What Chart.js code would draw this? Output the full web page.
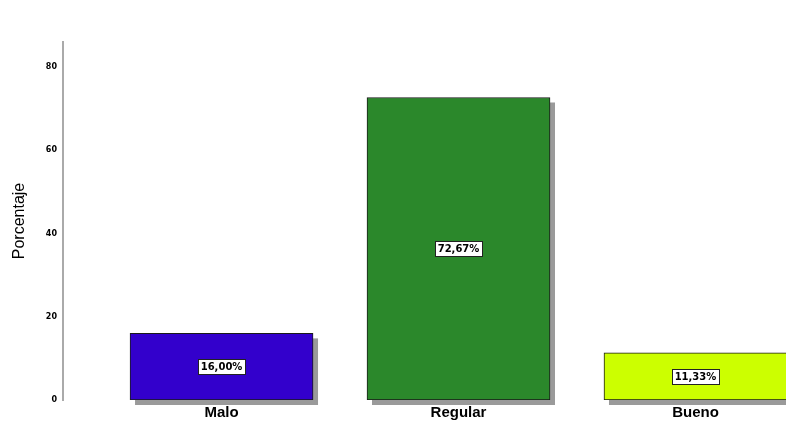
<!DOCTYPE html>
<html>
<head>
<meta charset="utf-8">
<script src="https://cdn.jsdelivr.net/npm/chart.js@4/dist/chart.umd.min.js"></script>
<style>
  html, body { margin: 0; padding: 0; background: #fff; overflow: hidden; }
  #wrap { width: 786px; height: 421px; position: relative; }
</style>
</head>
<body>
<div id="wrap"><canvas id="barChart"></canvas></div>
<script>
// Categories and percentages
const categories = ["Malo", "Regular", "Bueno"];
const percentages = [16.0, 72.67, 11.33];
const barColors = ["#3300cc", "#2b882b", "#ccff00"];
const yTicks = [0, 20, 40, 60, 80];

// gray drop shadow behind each bar
const shadowPlugin = {
  id: "barShadow",
  beforeDatasetsDraw(chart) {
    const ctx = chart.ctx;
    ctx.save();
    ctx.fillStyle = "#9a9a9a";
    chart.getDatasetMeta(0).data.forEach((bar) => {
      const p = bar.getProps(["x", "y", "base", "width"], true);
      ctx.fillRect(p.x - p.width / 2 + 5, p.y + 5, p.width, p.base - p.y);
    });
    ctx.restore();
  },
};

// white boxed value labels in the middle of the bars
const labelPlugin = {
  id: "boxLabels",
  afterDatasetsDraw(chart) {
    const ctx = chart.ctx;
    ctx.save();
    ctx.font = "bold 10px 'DejaVu Sans'";
    ctx.textAlign = "center";
    ctx.textBaseline = "middle";
    chart.getDatasetMeta(0).data.forEach((bar, i) => {
      const p = bar.getProps(["x", "y", "base"], true);
      const text = percentages[i].toFixed(2).replace(".", ",") + "%";
      const cy = (p.y + p.base) / 2;
      const w = Math.round(ctx.measureText(text).width + 5);
      const h = 15;
      const bx = Math.round(p.x - w / 2) + 0.5;
      const by = Math.round(cy - h / 2) + 0.5;
      ctx.fillStyle = "#fff";
      ctx.fillRect(bx, by, w, h);
      ctx.strokeStyle = "#222";
      ctx.lineWidth = 1;
      ctx.strokeRect(bx, by, w, h);
      ctx.fillStyle = "#000";
      ctx.fillText(text, p.x, cy + 1);
    });
    ctx.restore();
  },
};

const config = {
  type: "bar",
  data: {
    labels: categories,
    datasets: [
      {
        data: percentages.map((v, i) => ({ x: i, y: v })),
        backgroundColor: barColors,
        borderColor: "#1a1a1a",
        borderWidth: 1,
        borderSkipped: false,
        barThickness: 183,
      },
    ],
  },
  options: {
    responsive: true,
    maintainAspectRatio: false,
    animation: false,
    layout: { padding: { top: 42, right: 0, left: 0, bottom: 0 } },
    plugins: {
      legend: { display: false },
      tooltip: { enabled: false },
    },
    scales: {
      x: {
        type: "linear",
        offset: false,
        bounds: "data",
        min: -0.669,
        max: 2.382,
        grid: { display: false, drawTicks: false, offset: false },
        border: { display: false },
        afterFit: (s) => {
          s.height = 21;
        },
        afterBuildTicks: (s) => {
          s.ticks = categories.map((c, i) => ({ value: i }));
        },
        ticks: {
          padding: 5,
          color: "#000",
          font: { family: "'Liberation Sans', Arial", size: 15, weight: "bold", lineHeight: 1.0 },
          callback: (v) => categories[v],
        },
      },
      y: {
        min: 0,
        max: 86,
        afterFit: (s) => {
          s.width = 63;
        },
        afterBuildTicks: (s) => {
          s.ticks = yTicks.map((v) => ({ value: v }));
        },
        grid: { display: false, drawTicks: false },
        border: { display: true, color: "#aaaaaa", width: 2 },
        ticks: {
          padding: 6,
          color: "#000",
          font: { family: "'DejaVu Sans'", size: 8, weight: "bold" },
        },
        title: {
          display: true,
          text: "Porcentaje",
          color: "#000",
          padding: { top: 10, bottom: 0 },
          font: { family: "'Liberation Sans', Arial", size: 16 },
        },
      },
    },
  },
  plugins: [shadowPlugin, labelPlugin],
};

const barChart = new Chart(document.getElementById("barChart"), config);
</script>
</body>
</html>
